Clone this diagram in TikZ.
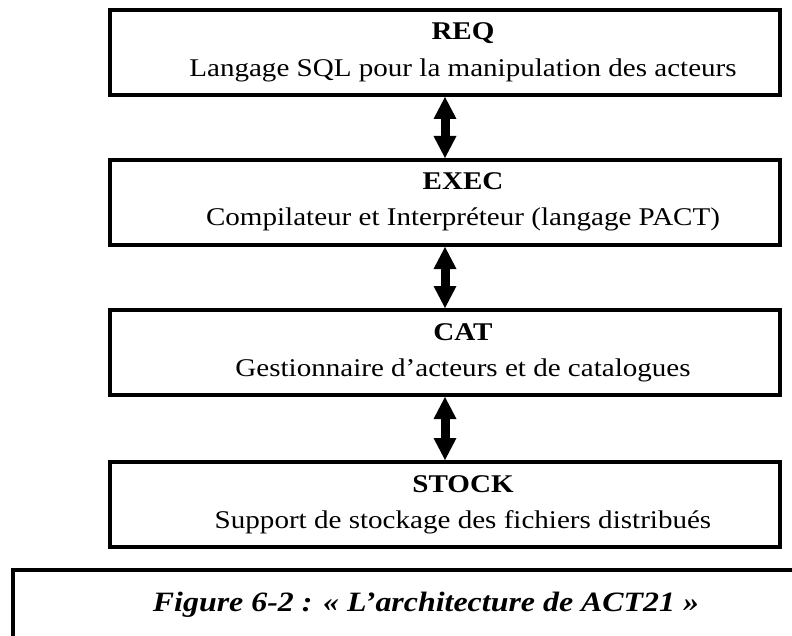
\documentclass[tikz,border=0pt]{standalone}
\usepackage{fontspec}
\setmainfont{Liberation Serif}[FakeStretch=1.14]
\usetikzlibrary{arrows.meta}
\begin{document}
\begin{tikzpicture}[x=1bp,y=-1bp,
  layer/.style={draw, line width=4bp, minimum width=670bp, minimum height=85bp, inner sep=0pt},
  ltitle/.style={anchor=base, inner sep=0pt, font=\fontsize{25.5bp}{30bp}\selectfont\bfseries},
  ldesc/.style={anchor=base, inner sep=0pt, font=\fontsize{25.5bp}{30bp}\selectfont},
  tip/.style={Triangle[width=23bp, length=22bp, line width=0pt]},
  link/.style={line width=9bp, {Triangle[width=23bp, length=22bp, line width=0pt]}-{Triangle[width=23bp, length=22bp, line width=0pt]}},
  capframe/.style={draw, line width=4bp, anchor=north west, minimum width=820bp, minimum height=100bp, inner sep=0pt},
  captext/.style={anchor=base, inner sep=0pt, font=\fontsize{28bp}{33bp}\selectfont\bfseries\itshape}
]
\useasboundingbox (0,0) rectangle (792,636);

% the four layers of the architecture
\node[layer] (req)   at (445,52.5)  {};
\node[layer] (exec)  at (445,202.5) {};
\node[layer] (cat)   at (445,352.5) {};
\node[layer] (stock) at (445,504.5) {};

\node[ltitle] (reqT)   at (463,40)    {REQ};
\node[ldesc]  (reqD)   at (463,76.5)  {Langage SQL pour la manipulation des acteurs};
\node[ltitle] (execT)  at (463,189.5) {EXEC};
\node[ldesc]  (execD)  at (463,226)   {Compilateur et Interpréteur (langage PACT)};
\node[ltitle] (catT)   at (463,340)   {CAT};
\node[ldesc]  (catD)   at (463,376.5) {Gestionnaire d’acteurs et de catalogues};
\node[ltitle] (stockT) at (463,492)   {STOCK};
\node[ldesc]  (stockD) at (463,528.5) {Support de stockage des fichiers distribués};

% two-way links between adjacent layers
\draw[link] (req.south)  -- (exec.north);
\draw[link] (exec.south) -- (cat.north);
\draw[link] (cat.south)  -- (stock.north);

% caption frame
\node[capframe] (capbox) at (11,568) {};
\node[captext] (cap) at (426,611.7) {Figure 6-2 : « L’architecture de ACT21 »};
\end{tikzpicture}
\end{document}
